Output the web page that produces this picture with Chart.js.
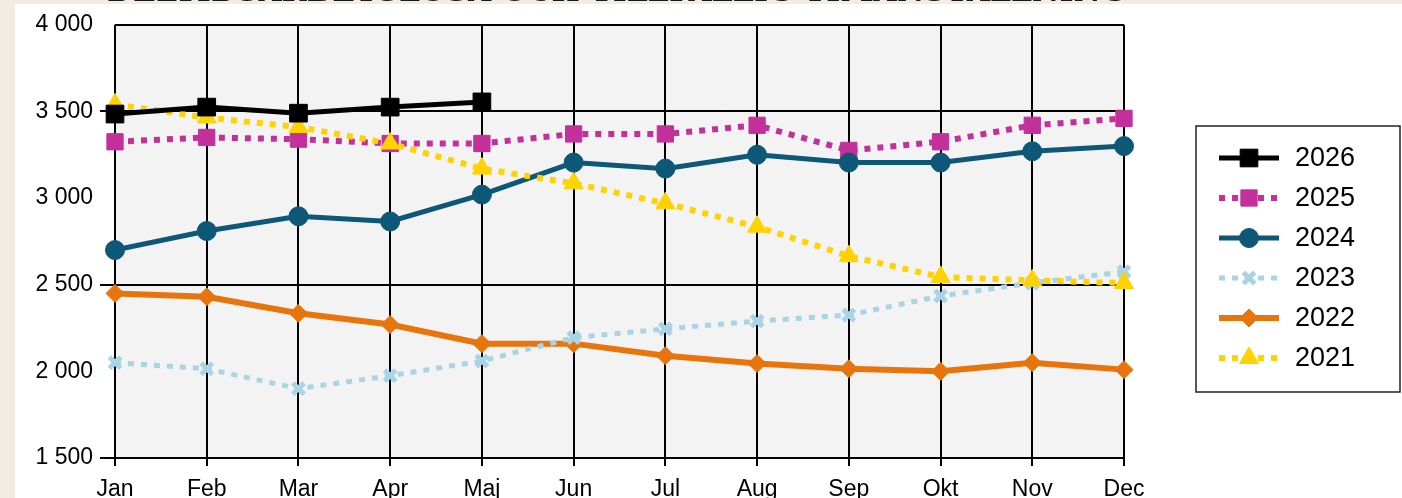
<!DOCTYPE html>
<html>
<head>
<meta charset="utf-8">
<script src="https://cdn.jsdelivr.net/npm/chart.js@4/dist/chart.umd.min.js"></script>
<style>
  html, body { margin: 0; padding: 0; }
  body { width: 1402px; height: 498px; overflow: hidden; background: #f3ece2; position: relative; }
  #panel { position: absolute; left: 15px; top: 4px; width: 1387px; height: 494px; background: #fff; }
  #title { position: absolute; left: 107px; top: -24px; font: bold 30px "DejaVu Serif", serif; color: #1a1a1a; white-space: nowrap; line-height: 30px; z-index: 2; }
</style>
</head>
<body>
<div id="title">DELTIDSARBETSLÖSA OCH TILLFÄLLIG TIMANSTÄLLNING</div>
<div id="panel"><canvas id="chart"></canvas></div>
<script>
const months = ["Jan", "Feb", "Mar", "Apr", "Maj", "Jun", "Jul", "Aug", "Sep", "Okt", "Nov", "Dec"];
const years = ["2026", "2025", "2024", "2023", "2022", "2021"];
const y2026 = [3485, 3525, 3490, 3525, 3555];
const y2025 = [3325, 3350, 3340, 3315, 3315, 3370, 3370, 3420, 3275, 3325, 3420, 3460];
const y2024 = [2700, 2810, 2895, 2865, 3020, 3205, 3170, 3250, 3205, 3205, 3270, 3300];
const y2023 = [2050, 2015, 1900, 1975, 2060, 2195, 2245, 2290, 2325, 2435, 2510, 2575];
const y2022 = [2450, 2430, 2335, 2270, 2160, 2160, 2090, 2045, 2015, 2000, 2050, 2010];
const y2021 = [3540, 3465, 3410, 3315, 3170, 3085, 2970, 2835, 2665, 2545, 2525, 2510];
const yMin = 1500, yMax = 4000, yStep = 500;
const majorLines = [1500, 2500, 3500];

const FONT = "'Liberation Sans', Arial, sans-serif";

function fmt(v) {
    return String(v).replace(/\B(?=(\d{3})+(?!\d))/g, " ");
}

function series(label, data, color, opts) {
    return Object.assign({
        label: label,
        data: data,
        borderColor: color,
        backgroundColor: color,
        pointBackgroundColor: color,
        pointBorderColor: color,
        pointBorderWidth: 1,
        pointHoverRadius: 0,
        tension: 0,
        fill: false
    }, opts);
}

const datasets = [
    series(years[0], y2026, "#000000", { borderWidth: 5, pointStyle: "rect", pointRadius: 12.5, order: 0 }),
    series(years[1], y2025, "#c3309c", { borderWidth: 6, borderDash: [6, 7], pointStyle: "rect", pointRadius: 11.5, order: 3 }),
    series(years[2], y2024, "#0d5777", { borderWidth: 5, pointStyle: "circle", pointRadius: 9.5, order: 2 }),
    series(years[3], y2023, "#a8d4e6", { borderWidth: 5, borderDash: [6, 7], pointStyle: "crossRot", pointRadius: 8, pointBorderWidth: 5, order: 4 }),
    series(years[4], y2022, "#e8740c", { borderWidth: 6, pointStyle: "rectRot", pointRadius: 9, order: 5 }),
    series(years[5], y2021, "#ffd200", { borderWidth: 6, borderDash: [6, 7], pointStyle: "triangle", pointRadius: 11, order: 1 })
];

const plotBg = {
    id: "plotBg",
    beforeDraw(chart) {
        const { ctx, chartArea: a } = chart;
        ctx.save();
        ctx.fillStyle = "#f3f3f3";
        ctx.fillRect(a.left, a.top, a.right - a.left, a.bottom - a.top);
        ctx.restore();
    }
};

const boxLegend = {
    id: "boxLegend",
    afterDraw(chart) {
        const ctx = chart.ctx;
        const a = chart.chartArea;
        const bx = a.right + 72, by = 122, bw = 204, bh = 266;
        ctx.save();
        ctx.fillStyle = "#fff";
        ctx.fillRect(bx, by, bw, bh);
        ctx.strokeStyle = "#222";
        ctx.lineWidth = 1.5;
        ctx.strokeRect(bx, by, bw, bh);
        chart.data.datasets.forEach((ds, i) => {
            const cy = by + 32 + i * 40;
            const x1 = bx + 23, x2 = bx + 83;
            ctx.save();
            ctx.strokeStyle = ds.borderColor;
            ctx.lineWidth = ds.borderWidth;
            ctx.setLineDash(ds.borderDash || []);
            ctx.beginPath();
            ctx.moveTo(x1, cy);
            ctx.lineTo(x2, cy);
            ctx.stroke();
            ctx.restore();
            ctx.save();
            ctx.fillStyle = ds.pointBackgroundColor;
            ctx.strokeStyle = ds.pointBorderColor;
            ctx.lineWidth = ds.pointBorderWidth;
            Chart.helpers.drawPoint(ctx, { pointStyle: ds.pointStyle, radius: ds.pointRadius, rotation: 0, borderWidth: ds.pointBorderWidth }, (x1 + x2) / 2, cy);
            ctx.restore();
            ctx.fillStyle = "#000";
            ctx.font = "27px " + FONT;
            ctx.textBaseline = "middle";
            ctx.textAlign = "left";
            ctx.fillText(ds.label, bx + 99, cy + 1);
        });
        ctx.restore();
    }
};

new Chart(document.getElementById("chart"), {
    type: "line",
    data: { labels: months, datasets: datasets },
    options: {
        responsive: true,
        maintainAspectRatio: false,
        animation: false,
        devicePixelRatio: 1,
        layout: { padding: { left: 0, top: 18, right: 278, bottom: 0 } },
        plugins: { legend: { display: false }, tooltip: { enabled: false } },
        scales: {
            x: {
                offset: false,
                border: { display: false },
                grid: { color: "#000", lineWidth: 2, tickLength: 8, tickColor: "#000", tickWidth: 2 },
                ticks: { color: "#000", font: { family: FONT, size: 23 }, padding: 10, maxRotation: 0 },
                afterFit(scale) { scale.height = 40; }
            },
            y: {
                min: yMin,
                max: yMax,
                border: { display: false },
                grid: {
                    lineWidth: 2,
                    tickLength: 15,
                    tickWidth: 2,
                    color: c => (majorLines.includes(c.tick.value) || c.tick.value === yMax) ? "#000" : "rgba(0,0,0,0)",
                    tickColor: c => majorLines.includes(c.tick.value) ? "#000" : "rgba(0,0,0,0)"
                },
                ticks: { stepSize: yStep, color: "#000", font: { family: FONT, size: 23 }, padding: 7, callback: v => fmt(v) },
                afterFit(scale) { scale.width = 100; }
            }
        }
    },
    plugins: [plotBg, boxLegend]
});
</script>
</body>
</html>
